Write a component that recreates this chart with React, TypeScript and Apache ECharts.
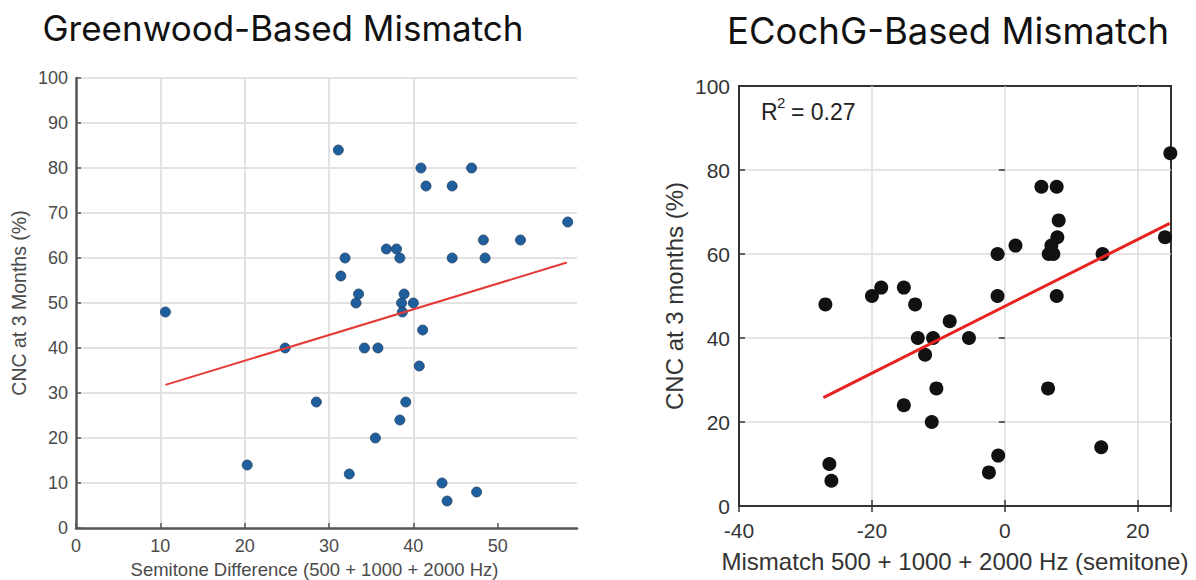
import React, { useEffect, useRef } from "react";
import * as echarts from "echarts";

// Greenwood-based mismatch (left panel)
const greenwoodX = [10.6, 20.3, 24.8, 28.5, 31.1, 31.4, 31.9, 32.4, 33.2, 33.5, 34.2, 35.5, 35.8, 36.8, 38.0, 38.4, 38.4, 38.6, 38.7, 38.9, 39.1, 40.0, 40.7, 40.9, 41.1, 41.5, 43.4, 44.0, 44.6, 44.6, 46.9, 47.5, 48.3, 48.5, 52.7, 58.3];
const greenwoodY = [48, 14, 40, 28, 84, 56, 60, 12, 50, 52, 40, 20, 40, 62, 62, 24, 60, 50, 48, 52, 28, 50, 36, 80, 44, 76, 10, 6, 76, 60, 80, 8, 64, 60, 64, 68];
const greenwoodFitX = [10.6, 58.2];
const greenwoodFitY = [31.8, 59.0];

// ECochG-based mismatch (right panel)
const ecochgX = [-27.0, -26.4, -26.1, -20.0, -18.6, -15.2, -15.2, -13.5, -13.1, -12.0, -10.8, -10.3, -11.0, -8.3, -5.4, -2.4, -1.0, -1.1, -1.1, 1.6, 5.5, 7.8, 8.1, 7.9, 7.0, 6.6, 7.3, 7.8, 6.5, 14.7, 14.5, 24.9, 24.1];
const ecochgY = [48, 10, 6, 50, 52, 52, 24, 48, 40, 36, 40, 28, 20, 44, 40, 8, 12, 50, 60, 62, 76, 76, 68, 64, 62, 60, 60, 50, 28, 60, 14, 84, 64];
const ecochgFitX = [-27.3, 24.8];
const ecochgFitY = [25.8, 67.3];

const leftTitle = "Greenwood-Based Mismatch";
const rightTitle = "ECochG-Based Mismatch";
const leftXName = "Semitone Difference (500 + 1000 + 2000 Hz)";
const leftYName = "CNC at 3 Months (%)";
const rightXName = "Mismatch 500 + 1000 + 2000 Hz (semitone)";
const rightYName = "CNC at 3 months (%)";
const r2Value = "= 0.27";

const AX = "Liberation Sans, Arial, sans-serif";
const TF = "Inter, Noto Sans, sans-serif";

const zip = (xs: number[], ys: number[]) => xs.map((x, i) => [x, ys[i]]);

export default function App() {
  const ref = useRef<HTMLDivElement>(null);
  useEffect(() => {
    if (!ref.current) return;
    const chart = echarts.init(ref.current, undefined, { renderer: "svg" });
    const leftLabel = { color: "#4a4a4a", fontSize: 18, fontFamily: AX };
    const rightLabel = { color: "#333", fontSize: 21, fontFamily: AX };
    chart.setOption({
      animation: false,
      backgroundColor: "#ffffff",
      grid: [
        { left: 76, top: 78, width: 501, height: 450, containLabel: false, outerBoundsMode: "none" },
        { left: 739, top: 86, width: 432, height: 420, show: true, borderColor: "#333", borderWidth: 2, backgroundColor: "transparent", containLabel: false, outerBoundsMode: "none" },
      ],
      xAxis: [
        {
          gridIndex: 0, type: "value", min: 0, max: 59.4, interval: 10,
          name: leftXName, nameLocation: "middle", nameGap: 27,
          nameTextStyle: { color: "#4a4a4a", fontSize: 18.5, fontFamily: AX, padding: [0, 24, 0, 0] },
          axisLine: { show: true, onZero: false, lineStyle: { color: "#555", width: 2.5 } },
          axisTick: { show: true, inside: true, length: 5, lineStyle: { color: "#555", width: 1.5 }, customValues: [0, 10, 20, 30, 40, 50] },
          axisLabel: { ...leftLabel, margin: 9, formatter: (v: number) => (v % 10 === 0 ? String(v) : "") },
          splitLine: { show: true, showMaxLine: false, showMinLine: false, lineStyle: { color: "#e2e2e2", width: 2 } },
        },
        {
          gridIndex: 1, type: "value", min: -40, max: 25, interval: 20,
          name: rightXName, nameLocation: "middle", nameGap: 43,
          nameTextStyle: { color: "#333", fontSize: 24, fontFamily: AX },
          axisLine: { show: true, onZero: false, lineStyle: { color: "#333", width: 2 } },
          axisTick: { show: true, inside: true, length: 6, lineStyle: { color: "#333", width: 1.5 } },
          axisLabel: { ...rightLabel, margin: 14, formatter: (v: number) => (v % 20 === 0 ? String(v) : "") },
          splitLine: { show: true, showMaxLine: false, showMinLine: false, lineStyle: { color: "#dcdcdc", width: 1.5 } },
        },
        {
          gridIndex: 1, type: "value", min: -40, max: 25, interval: 20, position: "top",
          axisLine: { show: false },
          axisTick: { show: true, inside: true, length: 6, lineStyle: { color: "#333", width: 1.5 } },
          axisLabel: { show: false },
          splitLine: { show: false },
        },
      ],
      yAxis: [
        {
          gridIndex: 0, type: "value", min: 0, max: 100, interval: 10,
          name: leftYName, nameLocation: "middle", nameGap: 47,
          nameTextStyle: { color: "#4a4a4a", fontSize: 19.5, fontFamily: AX },
          axisLine: { show: true, onZero: false, lineStyle: { color: "#555", width: 2.5 } },
          axisTick: { show: true, inside: true, length: 5, lineStyle: { color: "#555", width: 1.5 } },
          axisLabel: { ...leftLabel, margin: 8 },
          splitLine: { show: true, showMinLine: false, lineStyle: { color: "#e2e2e2", width: 2 } },
        },
        {
          gridIndex: 1, type: "value", min: 0, max: 100, interval: 20,
          name: rightYName, nameLocation: "middle", nameGap: 53,
          nameTextStyle: { color: "#333", fontSize: 24, fontFamily: AX },
          axisLine: { show: true, onZero: false, lineStyle: { color: "#333", width: 2 } },
          axisTick: { show: true, inside: true, length: 6, lineStyle: { color: "#333", width: 1.5 } },
          axisLabel: { ...rightLabel, margin: 9 },
          splitLine: { show: true, showMinLine: false, showMaxLine: false, lineStyle: { color: "#dcdcdc", width: 1.5 } },
        },
        {
          gridIndex: 1, type: "value", min: 0, max: 100, interval: 20, position: "right",
          axisLine: { show: false },
          axisTick: { show: true, inside: true, length: 6, lineStyle: { color: "#333", width: 1.5 } },
          axisLabel: { show: false },
          splitLine: { show: false },
        },
      ],
      series: [
        {
          type: "scatter", xAxisIndex: 0, yAxisIndex: 0, data: zip(greenwoodX, greenwoodY),
          symbol: "circle", symbolSize: 10,
          itemStyle: { color: "#1f5f9e", borderColor: "#203f60", borderWidth: 0.8, opacity: 1 },
          z: 3,
        },
        {
          type: "line", xAxisIndex: 0, yAxisIndex: 0, data: zip(greenwoodFitX, greenwoodFitY),
          symbol: "none", lineStyle: { color: "#e53935", width: 2 }, z: 4,
        },
        {
          type: "scatter", xAxisIndex: 1, yAxisIndex: 1, data: zip(ecochgX, ecochgY),
          symbol: "circle", symbolSize: 14, clip: false,
          itemStyle: { color: "#111111", opacity: 1 },
          z: 3,
        },
        {
          type: "line", xAxisIndex: 1, yAxisIndex: 1, data: zip(ecochgFitX, ecochgFitY),
          symbol: "none", lineStyle: { color: "#e8231f", width: 3 }, z: 4,
        },
      ],
      graphic: [
        { type: "text", x: 283, y: 10, style: { text: leftTitle, fontSize: 35, fontFamily: TF, fill: "#111", align: "center", verticalAlign: "top" } },
        { type: "text", x: 948, y: 12, style: { text: rightTitle, fontSize: 36.5, fontFamily: TF, fill: "#111", align: "center", verticalAlign: "top" } },
        { type: "text", x: 761, y: 100, style: { text: "R", fontSize: 23, fontFamily: AX, fill: "#222", align: "left", verticalAlign: "top" } },
        { type: "text", x: 777, y: 95, style: { text: "2", fontSize: 15, fontFamily: AX, fill: "#222", align: "left", verticalAlign: "top" } },
        { type: "text", x: 791, y: 100, style: { text: r2Value, fontSize: 23, fontFamily: AX, fill: "#222", align: "left", verticalAlign: "top" } },
      ],
    });
    return () => chart.dispose();
  }, []);
  return <div ref={ref} style={{ position: "absolute", left: 0, top: 0, width: 1196, height: 580 }} />;
}
